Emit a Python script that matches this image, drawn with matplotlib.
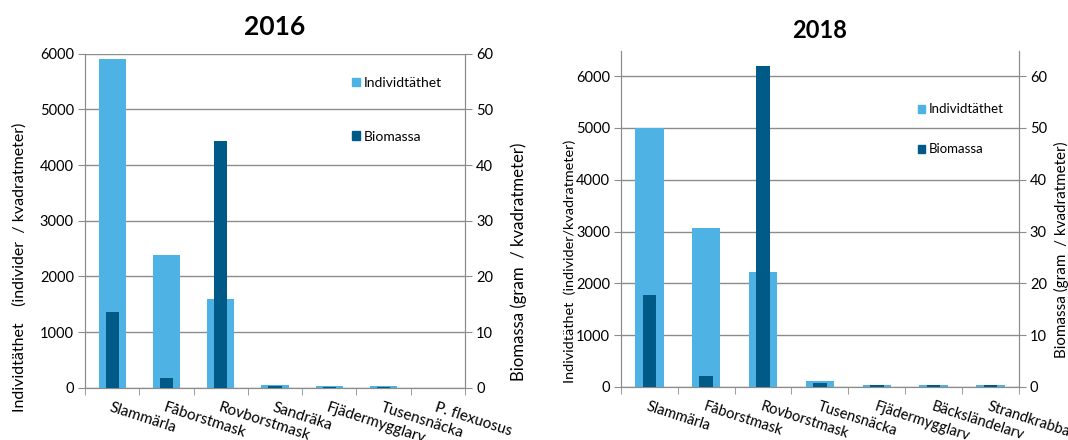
import matplotlib
matplotlib.use("Agg")
import matplotlib.pyplot as plt
from matplotlib.patches import Patch
import numpy as np

plt.rcParams['font.family'] = ['Lato', 'DejaVu Sans']

# 2016
arter_2016 = ['Slammärla', 'Fåborstmask', 'Rovborstmask', 'Sandräka',
              'Fjädermygglarv', 'Tusensnäcka', 'P. flexuosus']
tathet_2016 = [5910, 2380, 1590, 60, 36, 36, 0]
biomassa_2016 = [13.6, 1.8, 44.3, 0.4, 0.1, 0.1, 0]

# 2018
arter_2018 = ['Slammärla', 'Fåborstmask', 'Rovborstmask', 'Tusensnäcka',
              'Fjädermygglarv', 'Bäcksländelarv', 'Strandkrabba']
tathet_2018 = [5000, 3075, 2225, 122, 32, 32, 32]
biomassa_2018 = [17.7, 2.1, 61.9, 0.8, 0.3, 0.3, 0.3]

LJUS = '#4eb3e4'
MORK = '#005a87'
GRA = '#8c8c8c'

W, H = 1068, 440
fig = plt.figure(figsize=(W / 100, H / 100), dpi=100)
etiketter = []


def axeltext(txt, x, y, langd):
    # vertical axis title centred at pixel (x, y), scaled to given length later
    t = fig.text(x / W, 1 - y / H, txt, rotation=90, ha='center',
                 va='center', fontsize=11)
    etiketter.append((t, langd))


def panel(rect, titel, arter, tathet, biomassa, ymax, titel_size, titel_pad,
          xlab_size, leg_pos, leg_size, leg_space):
    ax = fig.add_axes(rect)
    x = np.arange(len(arter))
    ax.bar(x, tathet, width=0.5, color=LJUS, zorder=2)
    ax.set_xlim(-0.5, len(arter) - 0.5)
    ax.set_ylim(0, ymax)
    ax.set_yticks(np.arange(0, 6001, 1000))
    ax.yaxis.grid(True, color=GRA, linewidth=1.0, zorder=0)
    ax.set_axisbelow(True)

    ax.set_xticks(x, arter, rotation=-18, ha='left', va='top',
                  rotation_mode='anchor', fontsize=xlab_size)
    ax.set_xticks(np.arange(-0.5, len(arter)), minor=True)
    ax.tick_params(axis='x', which='major', length=0, pad=9)
    ax.tick_params(axis='x', which='minor', length=5, color=GRA)
    ax.tick_params(axis='y', length=5, color=GRA, labelsize=10.5, pad=3)

    ax2 = ax.twinx()
    ax2.bar(x, biomassa, width=0.24, color=MORK, zorder=3)
    ax2.set_ylim(0, ymax / 100)
    ax2.set_yticks(np.arange(0, 61, 10))
    ax2.tick_params(axis='y', length=5, color=GRA, labelsize=10.5, pad=3)

    for a in (ax, ax2):
        a.spines['top'].set_visible(False)
        for s in ('left', 'right', 'bottom'):
            a.spines[s].set_color(GRA)

    ax.set_title(titel, fontsize=titel_size, fontweight='bold', pad=titel_pad)

    handles = [Patch(color=LJUS, label='Individtäthet'),
               Patch(color=MORK, label='Biomassa')]
    ax2.legend(handles=handles, loc='upper left', bbox_to_anchor=leg_pos,
               frameon=False, fontsize=leg_size, labelspacing=leg_space,
               handlelength=0.55, handleheight=0.55, handletextpad=0.3,
               borderpad=0, borderaxespad=0)
    return ax, ax2


panel([0.0796, 0.1182, 0.3558, 0.7602], '2016', arter_2016, tathet_2016,
      biomassa_2016, 6000, 19, 13, 11, (0.703, 0.93), 10, 3.0)
axeltext('Individtäthet    (individer  / kvadratmeter)', 20, 267, 289)
axeltext('Biomassa (gram  / kvadratmeter)', 519, 262, 239)

panel([0.5815, 0.1205, 0.3724, 0.7643], '2018', arter_2018, tathet_2018,
      biomassa_2018, 6490, 17, 9, 10.5, (0.746, 0.843), 9.5, 2.1)
axeltext('Individtäthet  (individer/kvadratmeter)', 570, 261, 243)
axeltext('Biomassa (gram  / kvadratmeter)', 1061, 250, 215)

# scale the axis titles to their lengths
fig.canvas.draw()
r = fig.canvas.get_renderer()
for t, langd in etiketter:
    h = t.get_window_extent(r).height
    t.set_fontsize(t.get_fontsize() * langd / h)

fig.savefig('out.png', dpi=100)
